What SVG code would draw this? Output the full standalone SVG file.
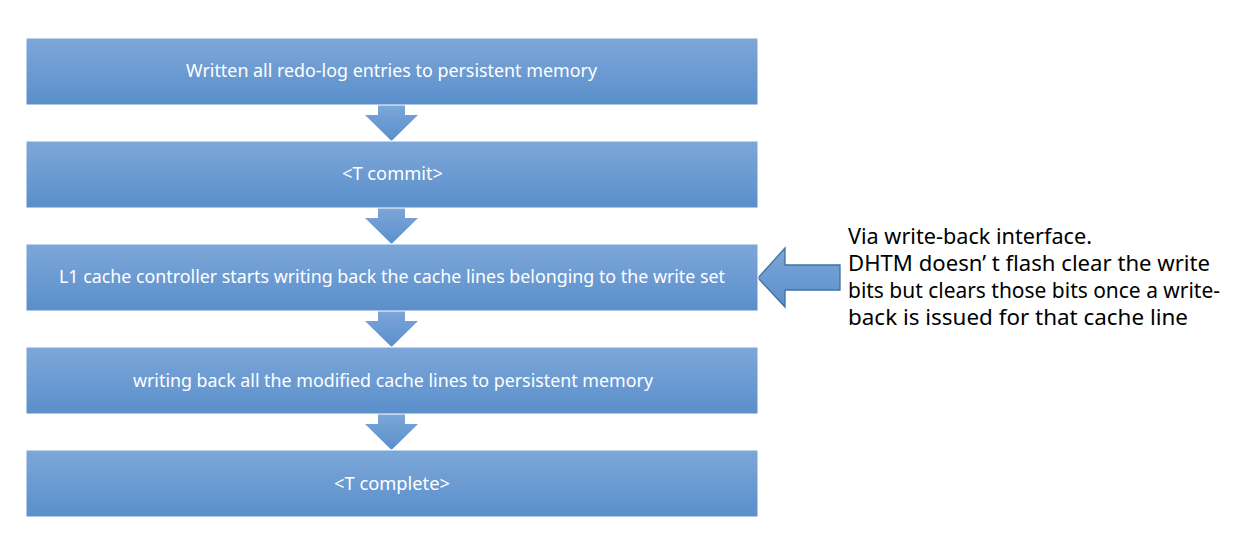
<svg xmlns="http://www.w3.org/2000/svg" width="1244" height="554" viewBox="0 0 1244 554">
<defs>
<linearGradient id="g" x1="0" y1="0" x2="0" y2="1">
<stop offset="0" stop-color="#7DA7D9"/>
<stop offset="1" stop-color="#5A8FCB"/>
</linearGradient>
<style>
.box{fill:url(#g);stroke:#ffffff;stroke-width:1}
.t{font-family:"Noto Sans","Open Sans",sans-serif;font-size:18px;fill:#ffffff}
.side{font-family:"Noto Sans","Open Sans",sans-serif;font-size:21px;fill:#000000}
.arr{fill:url(#g)}
.larr{fill:url(#g);stroke:#41719C;stroke-width:1.3}
</style>
</defs>
<rect width="1244" height="554" fill="#ffffff"/>
<g id="connectors">
<path class="arr" d="M378,104 H405 V115 H418 L391.5,141 L365,115 H378 Z"/>
<path class="arr" d="M378,207 H405 V218 H418 L391.5,244 L365,218 H378 Z"/>
<path class="arr" d="M378,310 H405 V321 H418 L391.5,347 L365,321 H378 Z"/>
<path class="arr" d="M378,413 H405 V424 H418 L391.5,450 L365,424 H378 Z"/>
<path class="larr" d="M840,265 V290 H785 V307 L758,278 L785,248 V265 Z"/>
</g>
<g id="n1"><rect class="box" x="26" y="38" width="732" height="67"/><text class="t" x="186" y="77" textLength="411" lengthAdjust="spacingAndGlyphs">Written all redo-log entries to persistent memory</text></g>
<g id="n2"><rect class="box" x="26" y="141" width="732" height="67"/><text class="t" x="342" y="180" textLength="101" lengthAdjust="spacingAndGlyphs">&lt;T commit&gt;</text></g>
<g id="n3"><rect class="box" x="26" y="244" width="732" height="67"/><text class="t" x="59" y="283" textLength="666" lengthAdjust="spacingAndGlyphs">L1 cache controller starts writing back the cache lines belonging to the write set</text></g>
<g id="n4"><rect class="box" x="26" y="347" width="732" height="67"/><text class="t" x="133" y="387" textLength="520" lengthAdjust="spacingAndGlyphs">writing back all the modified cache lines to persistent memory</text></g>
<g id="n5"><rect class="box" x="26" y="450" width="732" height="67"/><text class="t" x="334" y="490" textLength="116" lengthAdjust="spacingAndGlyphs">&lt;T complete&gt;</text></g>
<g id="note">
<text class="side" x="848" y="244" textLength="244" lengthAdjust="spacingAndGlyphs">Via write-back interface.</text>
<text class="side" x="848" y="271" textLength="362" lengthAdjust="spacingAndGlyphs">DHTM doesn’  t flash clear the write</text>
<text class="side" x="848" y="298" textLength="372" lengthAdjust="spacingAndGlyphs">bits but clears those bits once a write-</text>
<text class="side" x="848" y="325" textLength="340" lengthAdjust="spacingAndGlyphs">back is issued for that cache line</text>
</g>
</svg>
